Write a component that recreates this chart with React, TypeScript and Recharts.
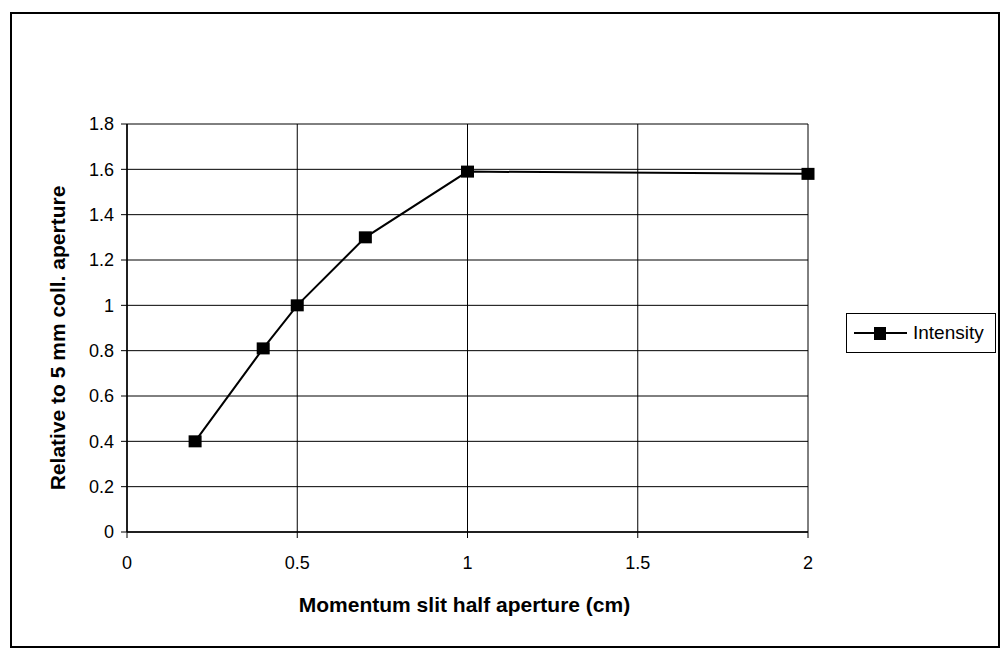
import { LineChart, Line, XAxis, YAxis, CartesianGrid, Legend, Label } from "recharts";

const FONT = "'Liberation Sans', Arial, sans-serif";

const slitHalfAperture = [0.2, 0.4, 0.5, 0.7, 1, 2];
const intensity = [0.4, 0.81, 1.0, 1.3, 1.59, 1.58];

const xTicks = [0, 0.5, 1, 1.5, 2];
const yTicks = [0, 0.2, 0.4, 0.6, 0.8, 1, 1.2, 1.4, 1.6, 1.8];

const data = slitHalfAperture.map((x, i) => ({ x, intensity: intensity[i] }));

function SquareDot(props: any) {
  const { cx, cy } = props;
  if (cx == null || cy == null) return null;
  return <rect x={cx - 6.5} y={cy - 6} width={13} height={12} fill="#000" />;
}

function LegendBox() {
  return (
    <div
      style={{
        boxSizing: "border-box",
        width: 150,
        height: 40,
        border: "1px solid #000",
        background: "#fff",
        display: "flex",
        alignItems: "center",
        fontFamily: FONT,
      }}
    >
      <svg width={64} height={20} style={{ display: "block" }}>
        <line x1={7} y1={10} x2={60} y2={10} stroke="#000" strokeWidth={2} />
        <rect x={27} y={4} width={12} height={13} fill="#000" />
      </svg>
      <span style={{ fontSize: 19, color: "#000", marginLeft: 2 }}>Intensity</span>
    </div>
  );
}

function XTitle({ viewBox }: any) {
  const cx = viewBox.x + viewBox.width / 2 - 3;
  const cy = viewBox.y + 72;
  return (
    <text x={cx} y={cy} textAnchor="middle" dominantBaseline="central"
      fontSize={21} fontWeight="bold" fontFamily={FONT} fill="#000">
      Momentum slit half aperture (cm)
    </text>
  );
}

function YTitle({ viewBox }: any) {
  const cx = viewBox.x - 3;
  const cy = viewBox.y + viewBox.height / 2 + 10;
  return (
    <text x={cx} y={cy} transform={`rotate(-90 ${cx} ${cy})`} textAnchor="middle"
      dominantBaseline="central" fontSize={21} fontWeight="bold" fontFamily={FONT} fill="#000">
      Relative to 5 mm coll. aperture
    </text>
  );
}

export default function App() {
  return (
    <div style={{ position: "absolute", left: 0, top: 0, width: 1003, height: 654, background: "#fff" }}>
      <div
        style={{
          position: "absolute",
          left: 10,
          top: 12,
          width: 990,
          height: 636,
          boxSizing: "border-box",
          border: "2px solid #000",
        }}
      />
      <div style={{ position: "absolute", left: 0, top: 0 }}>
        <LineChart
          width={1003}
          height={654}
          data={data}
          margin={{ top: 124, right: 195, bottom: 62, left: 60 }}
        >
          <CartesianGrid stroke="#000" strokeWidth={1} />
          <XAxis
            type="number"
            dataKey="x"
            domain={[0, 2]}
            ticks={xTicks}
            height={60}
            tickSize={6}
            tickMargin={18}
            axisLine={{ stroke: "#000", strokeWidth: 1.5 }}
            tickLine={{ stroke: "#000" }}
            tick={{ fill: "#000", fontSize: 18, fontFamily: FONT }}
          >
            <Label content={<XTitle />} />
          </XAxis>
          <YAxis
            type="number"
            domain={[0, 1.8]}
            ticks={yTicks}
            width={67}
            tickSize={6}
            tickMargin={7}
            axisLine={{ stroke: "#000", strokeWidth: 1.5 }}
            tickLine={{ stroke: "#000" }}
            tick={{ fill: "#000", fontSize: 18, fontFamily: FONT }}
          >
            <Label content={<YTitle />} />
          </YAxis>
          <Legend
            layout="vertical"
            align="center"
            verticalAlign="middle"
            wrapperStyle={{ left: 846, top: 313, width: 150, height: 40 }}
            content={() => <LegendBox />}
          />
          <Line
            type="linear"
            dataKey="intensity"
            name="Intensity"
            stroke="#000"
            strokeWidth={2}
            dot={(p: any) => <SquareDot key={p.index} {...p} />}
            activeDot={false}
            isAnimationActive={false}
          />
        </LineChart>
      </div>
    </div>
  );
}
